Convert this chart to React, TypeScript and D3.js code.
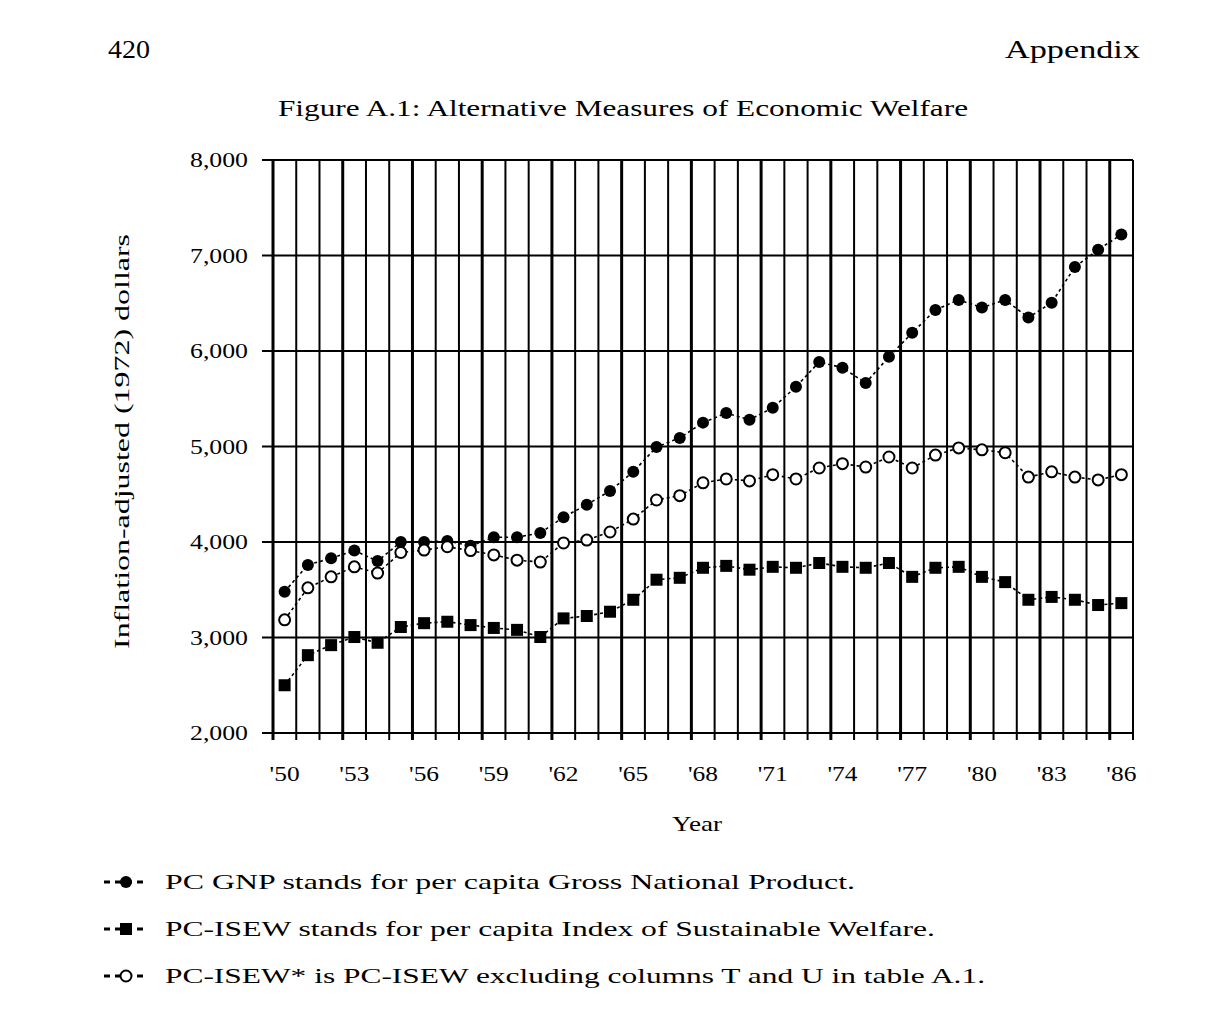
import React from "react";
import * as d3 from "d3";

const years = [1950,1951,1952,1953,1954,1955,1956,1957,1958,1959,1960,1961,1962,1963,1964,1965,1966,1967,1968,1969,1970,1971,1972,1973,1974,1975,1976,1977,1978,1979,1980,1981,1982,1983,1984,1985,1986];
const gnp = [3480,3760,3830,3910,3800,4000,4000,4010,3960,4050,4050,4095,4260,4390,4535,4735,4995,5090,5250,5350,5280,5405,5625,5885,5825,5665,5940,6190,6430,6535,6455,6535,6350,6505,6880,7060,7220];
const isew = [2500,2815,2920,3005,2945,3110,3150,3165,3130,3100,3080,3005,3200,3225,3270,3395,3605,3625,3730,3750,3710,3740,3730,3780,3740,3730,3780,3635,3730,3740,3635,3580,3395,3425,3395,3340,3360];
const isewStar = [3185,3520,3635,3740,3675,3890,3915,3950,3910,3865,3810,3790,3990,4020,4105,4240,4440,4485,4620,4660,4640,4705,4660,4775,4820,4785,4890,4775,4910,4985,4965,4935,4680,4735,4680,4650,4705];
const yTicks = [2000,3000,4000,5000,6000,7000,8000];
const xLabelYears = [1950,1953,1956,1959,1962,1965,1968,1971,1974,1977,1980,1983,1986];
const legendTexts = [
  "PC GNP stands for per capita Gross National Product.",
  "PC-ISEW stands for per capita Index of Sustainable Welfare.",
  "PC-ISEW* is PC-ISEW excluding columns T and U in table A.1.",
];

const FONT = "'Liberation Serif', 'DejaVu Serif', serif";

export default function App() {
  const x = d3.scaleLinear().domain([1949.5, 1986.5]).range([273, 1133]);
  const y = d3.scaleLinear().domain([2000, 8000]).range([733, 160]);
  const gridYears = d3.range(1949.5, 1987, 1);
  const line = d3.line<number>().x((_, i) => x(years[i])).y((v) => y(v));
  const fmt = d3.format(",");

  const series = [
    { data: gnp, kind: "dot" },
    { data: isewStar, kind: "open" },
    { data: isew, kind: "square" },
  ];

  const marker = (kind: string, cx: number, cy: number, key: any) => {
    if (kind === "dot") return <circle key={key} cx={cx} cy={cy} r={6} fill="#000" />;
    if (kind === "square") return <rect key={key} x={cx - 6} y={cy - 6} width={12} height={12} fill="#000" />;
    return <circle key={key} cx={cx} cy={cy} r={5.5} fill="#fff" stroke="#000" strokeWidth={2} />;
  };

  return (
    <svg width={1210} height={1024} style={{ position: "absolute", left: 0, top: 0, background: "#fff" }} fontFamily={FONT}>
      <rect width={1210} height={1024} fill="#fff" />
      <text x={108} y={58} fontSize={26} textLength={42} lengthAdjust="spacingAndGlyphs">420</text>
      <text x={1005} y={58} fontSize={26} textLength={135} lengthAdjust="spacingAndGlyphs">Appendix</text>
      <text x={278} y={116} fontSize={24} textLength={690} lengthAdjust="spacingAndGlyphs">Figure A.1: Alternative Measures of Economic Welfare</text>

      {/* horizontal grid */}
      {yTicks.map((t) => (
        <g key={"h" + t}>
          <line x1={262} x2={1133} y1={y(t)} y2={y(t)} stroke="#000" strokeWidth={2} />
          <text x={190} y={y(t) + 7} fontSize={20} textLength={58} lengthAdjust="spacingAndGlyphs">{fmt(t)}</text>
        </g>
      ))}
      {/* vertical grid */}
      {gridYears.map((g, i) => (
        <line key={"v" + i} x1={x(g)} x2={x(g)} y1={160} y2={740} stroke="#000" strokeWidth={i % 3 === 0 ? 3 : 2} />
      ))}

      {/* series */}
      {series.map((s, si) => (
        <g key={"s" + si}>
          <path d={line(s.data) || ""} fill="none" stroke="#000" strokeWidth={1.6} strokeDasharray="3,3" />
          {s.data.map((v, i) => marker(s.kind, x(years[i]), y(v), i))}
        </g>
      ))}

      {xLabelYears.map((yr) => (
        <text key={"xl" + yr} x={x(yr) - 15} y={781} fontSize={20} textLength={30} lengthAdjust="spacingAndGlyphs">{"'" + String(yr).slice(2)}</text>
      ))}
      <text x={672} y={831} fontSize={21} textLength={50} lengthAdjust="spacingAndGlyphs">Year</text>
      <text transform={`translate(129,${y(5000) - 5}) rotate(-90)`} fontSize={21} textAnchor="middle" textLength={415} lengthAdjust="spacingAndGlyphs">Inflation-adjusted (1972) dollars</text>

      {/* legend */}
      {legendTexts.map((t, i) => {
        const ly = 882 + i * 47;
        const kinds = ["dot", "square", "open"];
        const widths = [690, 770, 820];
        return (
          <g key={"lg" + i}>
            <line x1={104} x2={148} y1={ly} y2={ly} stroke="#000" strokeWidth={3} strokeDasharray="6,5" />
            {marker(kinds[i], 126, ly, "m")}
            <text x={165} y={ly + 7} fontSize={22} textLength={widths[i]} lengthAdjust="spacingAndGlyphs">{t}</text>
          </g>
        );
      })}
    </svg>
  );
}
